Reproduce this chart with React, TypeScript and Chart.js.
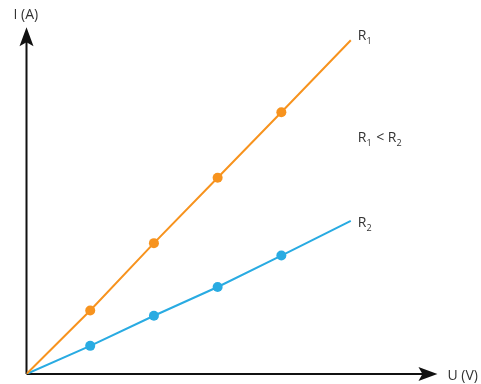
import React, { useEffect, useRef } from "react";
import { Chart, registerables } from "chart.js";

Chart.register(...registerables);

// Data (U in arbitrary volt units, I in arbitrary ampere units)
const voltage = [0, 1, 2, 3, 4, 5.09];
const currentR1 = [0, 0.97, 2.0, 3.0, 4.0, 5.1];
const currentR2 = [0, 0.43, 0.89, 1.33, 1.81, 2.34];
const markerRadius = [0, 5, 5, 5, 5, 0];

const xAxisLabel = "U (V)";
const yAxisLabel = "I (A)";
const xMax = 6.6;
const yMax = 5.41;
const xArrowEnd = 6.45;
const yArrowEnd = 5.3;

const ORANGE = "#F7931E";
const BLUE = "#29ABE2";
const TEXT = "#333333";
const FONT = "'Open Sans', 'Noto Sans', sans-serif";

function drawSubText(ctx: CanvasRenderingContext2D, parts: [string, boolean][], x: number, y: number) {
  let cx = x;
  for (const [t, sub] of parts) {
    ctx.font = sub ? `9px ${FONT}` : `14px ${FONT}`;
    ctx.fillText(t, cx, sub ? y + 4 : y);
    cx += ctx.measureText(t).width + (sub ? 1 : 0);
  }
}

const axesPlugin = {
  id: "arrowAxes",
  beforeDatasetsDraw(chart: any) {
    const { ctx, scales } = chart;
    const xs = scales.x;
    const ys = scales.y;
    const ox = xs.getPixelForValue(0);
    const oy = ys.getPixelForValue(0);
    const tx = xs.getPixelForValue(xArrowEnd);
    const ty = ys.getPixelForValue(yArrowEnd);
    ctx.save();
    ctx.strokeStyle = "#111";
    ctx.fillStyle = "#111";
    ctx.lineWidth = 2;
    ctx.beginPath();
    ctx.moveTo(ox, oy);
    ctx.lineTo(tx - 10, oy);
    ctx.moveTo(ox, oy);
    ctx.lineTo(ox, ty + 10);
    ctx.stroke();
    // x arrow
    ctx.beginPath();
    ctx.moveTo(tx, oy);
    ctx.lineTo(tx - 19, oy - 7);
    ctx.lineTo(tx - 15, oy);
    ctx.lineTo(tx - 19, oy + 7);
    ctx.closePath();
    ctx.fill();
    // y arrow
    ctx.beginPath();
    ctx.moveTo(ox, ty);
    ctx.lineTo(ox - 7, ty + 19);
    ctx.lineTo(ox, ty + 15);
    ctx.lineTo(ox + 7, ty + 19);
    ctx.closePath();
    ctx.fill();
    ctx.restore();
  },
  afterDatasetsDraw(chart: any) {
    const { ctx, scales } = chart;
    const xs = scales.x;
    const ys = scales.y;
    ctx.save();
    ctx.fillStyle = TEXT;
    ctx.textBaseline = "alphabetic";
    ctx.textAlign = "left";
    ctx.font = `14px ${FONT}`;
    ctx.fillText(yAxisLabel, xs.getPixelForValue(0) - 13, 19);
    ctx.fillText(xAxisLabel, xs.getPixelForValue(xArrowEnd) + 10, ys.getPixelForValue(0) + 6);
    const lx = xs.getPixelForValue(5.2);
    drawSubText(ctx, [["R", false], ["1", true]], lx, ys.getPixelForValue(5.1));
    drawSubText(ctx, [["R", false], ["1", true], [" < R", false], ["2", true]], lx, ys.getPixelForValue(3.54));
    drawSubText(ctx, [["R", false], ["2", true]], lx, ys.getPixelForValue(2.25));
    ctx.restore();
  },
};

export default function App() {
  const ref = useRef<HTMLCanvasElement | null>(null);
  useEffect(() => {
    if (!ref.current) return;
    const chart = new Chart(ref.current, {
      type: "line",
      data: {
        datasets: [
          {
            label: "R1",
            data: voltage.map((u, i) => ({ x: u, y: currentR1[i] })),
            borderColor: ORANGE,
            backgroundColor: ORANGE,
            borderWidth: 2,
            pointRadius: markerRadius,
            pointBorderWidth: 0,
            pointHoverRadius: markerRadius,
            tension: 0,
          },
          {
            label: "R2",
            data: voltage.map((u, i) => ({ x: u, y: currentR2[i] })),
            borderColor: BLUE,
            backgroundColor: BLUE,
            borderWidth: 2,
            pointRadius: markerRadius,
            pointBorderWidth: 0,
            pointHoverRadius: markerRadius,
            tension: 0,
          },
        ],
      },
      options: {
        responsive: false,
        animation: false,
        layout: { padding: { left: 26.5, right: 34, top: 20, bottom: 10 } },
        plugins: { legend: { display: false }, tooltip: { enabled: false } },
        scales: {
          x: { type: "linear", min: 0, max: xMax, display: false },
          y: { type: "linear", min: 0, max: yMax, display: false },
        },
      },
      plugins: [axesPlugin],
    } as any);
    return () => chart.destroy();
  }, []);
  return (
    <div style={{ position: "fixed", left: 0, top: 0, width: 481, height: 384, background: "#fff" }}>
      <canvas ref={ref} width={481} height={384} />
    </div>
  );
}
